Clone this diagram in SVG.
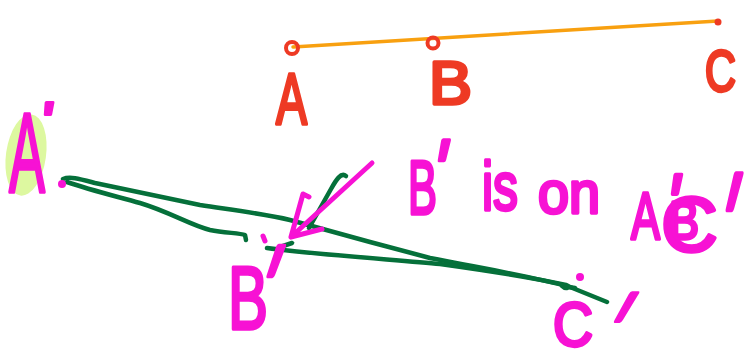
<svg xmlns="http://www.w3.org/2000/svg" width="744" height="350" viewBox="0 0 744 350">
<style>
text{font-family:"Liberation Sans",Arial,sans-serif;stroke-linejoin:round}
.red{fill:#EE3A24;stroke:#EE3A24;stroke-width:3.5}
.mag{fill:#F712D4;stroke:#F712D4;stroke-width:3.5}
.pr{fill:#F712D4;stroke:#F712D4;stroke-width:3.5;font-size:70px}
.grn{fill:none;stroke:#05703A;stroke-width:4.5;stroke-linecap:round;stroke-linejoin:round}
.magl{fill:none;stroke:#F712D4;stroke-width:5;stroke-linecap:round;stroke-linejoin:round}
</style>
<rect width="744" height="350" fill="#ffffff"/>
<g id="segment-ABC">
  <line x1="293" y1="47" x2="718" y2="21" stroke="#F8A010" stroke-width="3.5" stroke-linecap="round"/>
  <circle cx="292" cy="48" r="6" fill="none" stroke="#EE3A24" stroke-width="4"/>
  <circle cx="433" cy="43" r="5.5" fill="none" stroke="#EE3A24" stroke-width="4"/>
  <circle cx="718" cy="22" r="3.5" fill="#EE3A24"/>
</g>
<g id="label-A"><text class="red" font-size="72" transform="translate(276,124) scale(0.646,1)">A</text></g>
<g id="label-B"><text class="red" font-size="62" transform="translate(429,104) scale(1.04,1)">B</text></g>
<g id="label-C"><text class="red" font-size="58" transform="translate(705,91) scale(0.74,1)">C</text></g>

<g id="connectors">
  <path class="grn" d="M63,179 C70,176 80,179 95,183 L200,205 C240,211 265,214 290,220 L370,242 L430,258 C480,268 530,276 570,287 L607,302"/>
  <path class="grn" d="M67,182 C90,190 115,196 140,203 C170,212 190,225 210,230 C225,233 240,233 245,235 L246,240"/>
  <path class="grn" d="M267,248 C320,255 400,260 440,264 C490,271 530,277 566,285 C572,287 566,290 562,286 L575,288"/>
  <path class="grn" d="M280,247 L292,243"/>
  <path class="grn" d="M346,176 C341,172 336,180 331,189 L309,228"/>
  <path class="magl" d="M372,163 L291,237 M303,194 L291,237 L322,229 M303,194 L309,197"/>
</g>

<g id="node-A-prime">
  <ellipse cx="26" cy="155" rx="20" ry="41" fill="#DDF8A0" transform="rotate(8 26 155)"/>
  <text class="mag" font-size="114" transform="translate(9,192) scale(0.474,1)">A</text>
  <text class="pr" x="-6.65" y="33.1" transform="translate(48,115) skewX(-7.6) scale(1,0.8)">'</text>
  <circle cx="62" cy="184" r="4" fill="#F712D4"/>
</g>

<g id="node-B-prime">
  <path class="magl" d="M263,236 L265,241"/>
  <text class="mag" font-size="89" transform="translate(228,329) scale(0.673,1)">B</text>
  <text class="pr" x="-6.65" y="33.1" transform="translate(271,275) skewX(-19.4) scale(1,1.85)">'</text>
</g>

<g id="node-C-prime">
  <circle cx="580" cy="277" r="4" fill="#F712D4"/>
  <text class="mag" font-size="62" transform="translate(553,346) scale(0.894,1)">C</text>
  <text class="pr" x="-6.65" y="33.1" transform="translate(619,320) skewX(-30) scale(1,1.7)">'</text>
</g>

<g id="note">
  <text class="mag" font-size="76" transform="translate(408,214) scale(0.572,1)">B</text>
  <text class="pr" x="-6.65" y="33.1" transform="translate(442,160) skewX(-11.8) scale(1,1.3)">'</text>
  <text class="mag" font-size="68" transform="translate(482,210) scale(0.733,1)">is</text>
  <text class="mag" font-size="60" transform="translate(538,213) scale(0.93,1)">on</text>
  <text class="mag" font-size="67" transform="translate(631,239) scale(0.649,1)">A</text>
  <text class="pr" x="-6.65" y="33.1" transform="translate(675,194) skewX(-10) scale(1,1.25)">'</text>
  <text class="mag" font-size="54" transform="translate(669,239) scale(0.833,1)">B</text>
  <text class="mag" font-size="78" transform="translate(661,251) scale(1.01,1)">C</text>
  <text class="pr" x="-6.65" y="33.1" transform="translate(730,208) skewX(-14) scale(1,2.2)">'</text>
</g>
</svg>
